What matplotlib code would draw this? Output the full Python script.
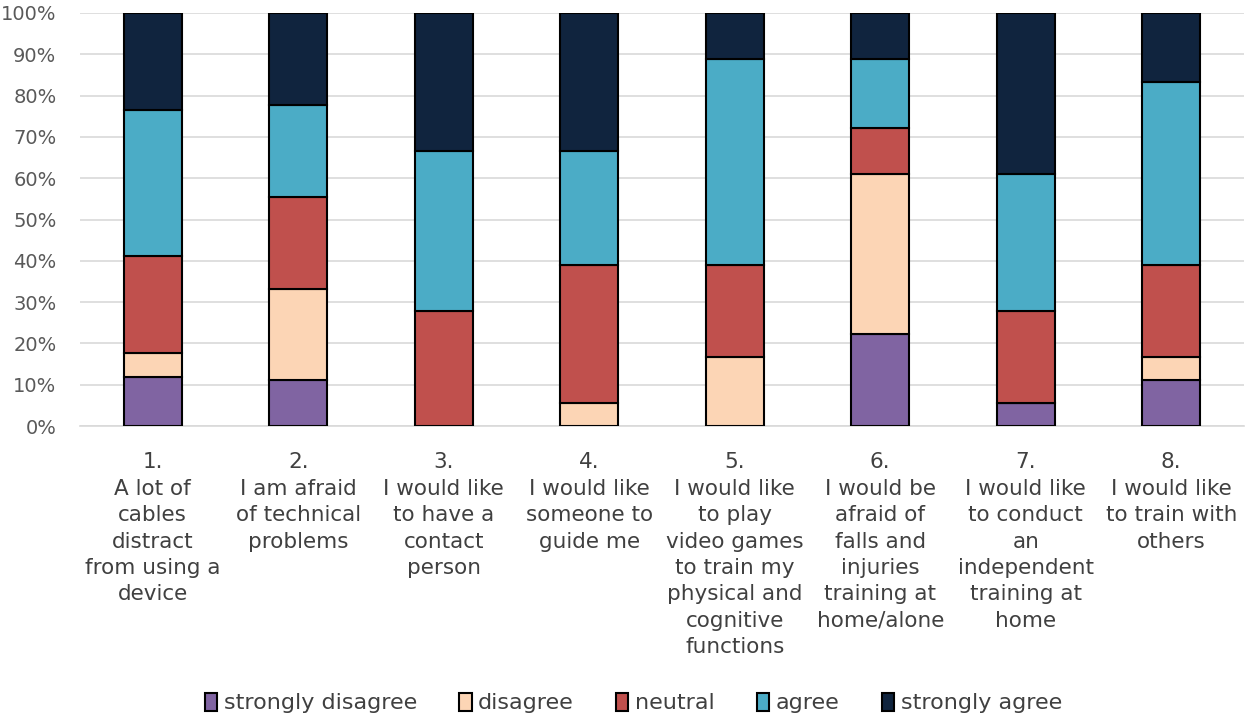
import matplotlib
matplotlib.use("Agg")
import matplotlib.pyplot as plt
import numpy as np

plt.rcParams['font.family'] = ['DejaVu Sans']

categories = [
    "1.\nA lot of\ncables\ndistract\nfrom using a\ndevice",
    "2.\nI am afraid\nof technical\nproblems",
    "3.\nI would like\nto have a\ncontact\nperson",
    "4.\nI would like\nsomeone to\nguide me",
    "5.\nI would like\nto play\nvideo games\nto train my\nphysical and\ncognitive\nfunctions",
    "6.\nI would be\nafraid of\nfalls and\ninjuries\ntraining at\nhome/alone",
    "7.\nI would like\nto conduct\nan\nindependent\ntraining at\nhome",
    "8.\nI would like\nto train with\nothers",
]
series_names = ["strongly disagree", "disagree", "neutral", "agree", "strongly agree"]
strongly_disagree = [11.8, 11.1, 0.0, 0.0, 0.0, 22.2, 5.6, 11.1]
disagree = [5.9, 22.2, 0.0, 5.6, 16.7, 38.9, 0.0, 5.6]
neutral = [23.5, 22.2, 27.8, 33.3, 22.2, 11.1, 22.2, 22.2]
agree = [35.3, 22.2, 38.9, 27.8, 50.0, 16.7, 33.3, 44.4]
strongly_agree = [23.5, 22.2, 33.3, 33.3, 11.1, 11.1, 38.9, 16.7]
colors = ["#8064A2", "#FCD5B5", "#C0504D", "#4BACC6", "#10243E"]

fig = plt.figure(figsize=(12.47, 7.21), dpi=100)
ax = fig.add_axes([0.0642, 0.409, 0.9334, 0.573])

x = np.arange(len(categories))
bottom = np.zeros(len(categories))
for name, vals, c in zip(series_names,
                         [strongly_disagree, disagree, neutral, agree, strongly_agree],
                         colors):
    vals = np.array(vals)
    ax.bar(x, vals, 0.4, bottom=bottom, color=c, edgecolor="black",
           linewidth=1.5, label=name, zorder=3)
    bottom += vals

ax.set_xlim(-0.5, len(categories) - 0.5)
ax.set_ylim(0, 100)
ax.set_yticks(np.arange(0, 101, 10))
ax.set_yticklabels([f"{v}%" for v in range(0, 101, 10)], fontsize=14, color="#595959")
ax.yaxis.grid(True, color="#D9D9D9", linewidth=1.2, zorder=0)
ax.set_xticks(x)
ax.set_xticklabels(categories, fontsize=15.5, color="#404040", linespacing=1.4,
                   va="top")
ax.tick_params(axis="both", length=0)
ax.tick_params(axis="x", pad=19)
ax.tick_params(axis="y", pad=17)
for s in ["top", "right", "left"]:
    ax.spines[s].set_visible(False)
ax.spines["bottom"].set_color("#D9D9D9")
ax.spines["bottom"].set_linewidth(1.2)

leg = fig.legend(loc="center", bbox_to_anchor=(0.508, 0.025), ncol=5, frameon=False,
                 fontsize=16, handlelength=0.55, handleheight=0.9, handletextpad=0.3,
                 columnspacing=1.9)
for t in leg.get_texts():
    t.set_color("#404040")

fig.savefig("out.png", dpi=100)
